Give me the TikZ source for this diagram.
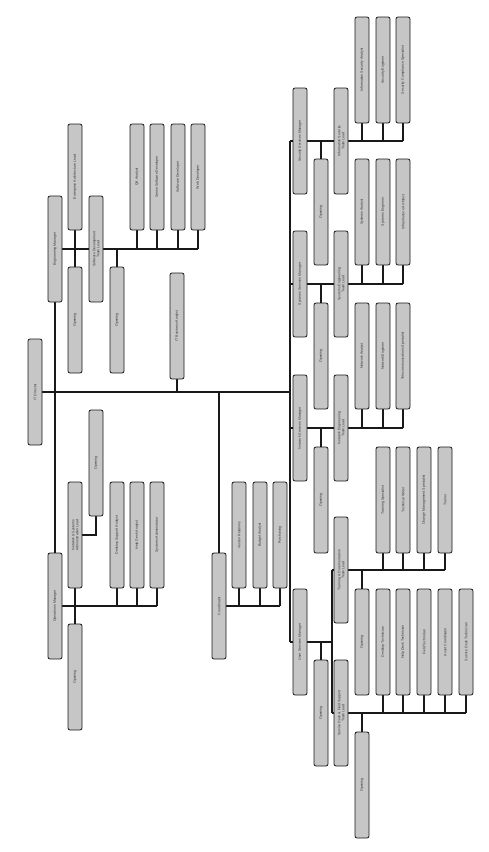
\documentclass[tikz,border=0pt]{standalone}
\usepackage{fontspec}
\setmainfont{Liberation Sans}
\usetikzlibrary{backgrounds}
\definecolor{boxgray}{HTML}{C6C6C6}
\begin{document}
\begin{tikzpicture}[x=1pt,y=1pt,
  box/.style={draw=black!90, line width=0.8pt, fill=boxgray, rounded corners=2pt,
    rotate=90, minimum width=106pt, minimum height=14pt, inner sep=0.8pt,
    align=center, text=black!80, font=\fontsize{3.5}{4}\selectfont},
  conn/.style={line width=2pt, draw=black!90}]
\useasboundingbox (0,0) rectangle (488,-852);
% ---- left part
\node[box] (root) at (35,-392) {IT Director};
\node[box] (A1) at (55,-249) {Engineering Manager};
\node[box] (B1) at (55,-606) {Operations Manager};
\node[box] (tl1) at (75,-177) {Enterprise Architecture Lead};
\node[box] (tlop) at (75,-320) {Opening};
\node[box] (tlsub) at (96,-249) {Software Development\\Team Lead};
\node[box] (tlop2) at (117,-320) {Opening};
\node[box] (tlc1) at (137,-177) {QA Analyst};
\node[box] (tlc2) at (157,-177) {Senior Software Developer};
\node[box] (tlc3) at (178,-177) {Software Developer};
\node[box] (tlc4) at (198,-177) {Web Developer};
\node[box] (mid) at (177,-326) {IT Business Analyst};
\node[box] (blsub) at (75,-535) {Network \& Systems\\Administration Lead};
\node[box] (blop) at (75,-677) {Opening};
\node[box] (blop2) at (96,-463) {Opening};
\node[box] (blc1) at (117,-535) {Desktop Support Analyst};
\node[box] (blc2) at (137,-535) {Help Desk Analyst};
\node[box] (blc3) at (157,-535) {Systems Administrator};
\node[box] (ctrl) at (219,-606) {Coordinator};
\node[box] (cc1) at (239,-535) {Vendor Relations};
\node[box] (cc2) at (260,-535) {Budget Analyst};
\node[box] (cc3) at (280,-535) {Purchasing};
% ---- right part
\node[box] (g1) at (300,-141) {Security Services Manager};
\node[box] (g1op) at (321,-212) {Opening};
\node[box] (g1s) at (341,-141) {Information Security\\Team Lead};
\node[box] (g1c1) at (362,-70) {Information Security Analyst};
\node[box] (g1c2) at (383,-70) {Security Engineer};
\node[box] (g1c3) at (403,-70) {Security Compliance Specialist};
\node[box] (g2) at (300,-284) {Systems Services Manager};
\node[box] (g2op) at (321,-356) {Opening};
\node[box] (g2s) at (341,-284) {Systems Engineering\\Team Lead};
\node[box] (g2c1) at (362,-212) {Systems Analyst};
\node[box] (g2c2) at (383,-212) {Systems Engineer};
\node[box] (g2c3) at (403,-212) {Infrastructure Architect};
\node[box] (g3) at (300,-428) {Network Services Manager};
\node[box] (g3op) at (321,-500) {Opening};
\node[box] (g3s) at (341,-428) {Network Engineering\\Team Lead};
\node[box] (g3c1) at (362,-356) {Network Analyst};
\node[box] (g3c2) at (383,-356) {Network Engineer};
\node[box] (g3c3) at (403,-356) {Telecommunications Specialist};
\node[box] (g4) at (300,-642) {User Services Manager};
\node[box] (g4op) at (321,-713) {Opening};
\node[box] (s1) at (341,-570) {Training \& Documentation\\Team Lead};
\node[box] (s1op) at (362,-642) {Opening};
\node[box] (s1c1) at (383,-500) {Training Specialist};
\node[box] (s1c2) at (403,-500) {Technical Writer};
\node[box] (s1c3) at (424,-500) {Change Management Specialist};
\node[box] (s1c4) at (445,-500) {Trainer};
\node[box] (s2) at (341,-713) {Service Desk \& Field Support\\Team Lead};
\node[box] (s2op) at (362,-785) {Opening};
\node[box] (s2c1) at (383,-642) {Desktop Technician};
\node[box] (s2c2) at (403,-642) {Help Desk Technician};
\node[box] (s2c3) at (424,-642) {Field Technician};
\node[box] (s2c4) at (445,-642) {Asset Coordinator};
\node[box] (s2c5) at (466,-642) {Service Desk Technician};
\coordinate (rv) at (290,0);
\coordinate (gv) at (332,0);
\begin{scope}[on background layer]
  % spine
  \draw[conn] (root) -- (root -| rv);
  \draw[conn] (A1) -- (B1);
  \draw[conn] (mid) -- (mid |- root);
  \draw[conn] (ctrl) -- (ctrl |- root);
  % top-left group
  \draw[conn] (A1) -- (tlc4 |- A1);
  \draw[conn] (tl1) -- (tlop);
  \foreach \n in {tlop2,tlc1,tlc2,tlc3,tlc4} \draw[conn] (\n) -- (\n |- A1);
  % bottom-left group
  \draw[conn] (B1) -- (blc3 |- B1);
  \draw[conn] (blsub) -- (blop);
  \draw[conn] (blsub) -| (blop2);
  \foreach \n in {blc1,blc2,blc3} \draw[conn] (\n) -- (\n |- B1);
  % controller group
  \draw[conn] (ctrl) -- (cc3 |- ctrl);
  \foreach \n in {cc1,cc2,cc3} \draw[conn] (\n) -- (\n |- ctrl);
  % right groups
  \draw[conn] (rv |- g1) -- (rv |- g4);
  \foreach \g in {g1,g2,g3} {
    \draw[conn] (rv |- \g) -- (\g c3 |- \g);
    \draw[conn] (\g op) -- (\g op |- \g);
    \foreach \c in {1,2,3} \draw[conn] (\g c\c) -- (\g c\c |- \g);
  }
  \draw[conn] (rv |- g4) -- (gv |- g4);
  \draw[conn] (g4op) -- (g4op |- g4);
  \draw[conn] (gv |- s1) -- (gv |- s2);
  \draw[conn] (gv |- s1) -- (s1c4 |- s1);
  \draw[conn] (s1op) -- (s1op |- s1);
  \foreach \c in {1,2,3,4} \draw[conn] (s1c\c) -- (s1c\c |- s1);
  \draw[conn] (gv |- s2) -- (s2c5 |- s2);
  \draw[conn] (s2op) -- (s2op |- s2);
  \foreach \c in {1,2,3,4,5} \draw[conn] (s2c\c) -- (s2c\c |- s2);
\end{scope}
\end{tikzpicture}
\end{document}
